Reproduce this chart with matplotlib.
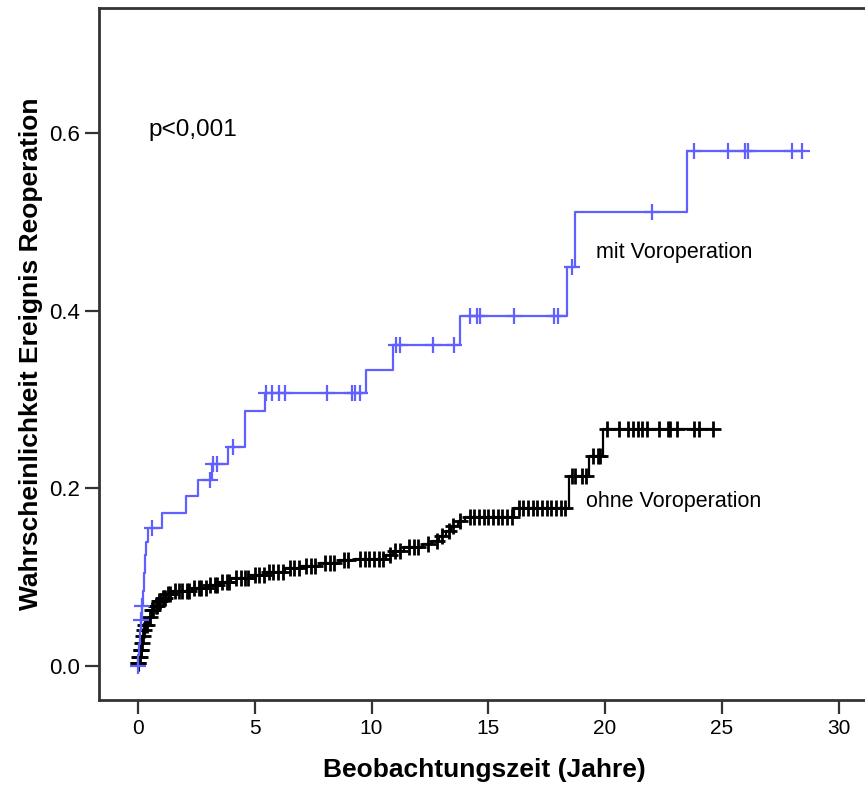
import numpy as np
import matplotlib
matplotlib.use("Agg")
import matplotlib.pyplot as plt

# Kaplan-Meier type cumulative incidence of reoperation
# event times (years) and cumulative probability after each event
mit_t = [0.0, 0.02, 0.05, 0.08, 0.12, 0.16, 0.2, 0.25, 0.3, 0.35, 0.42, 1.03, 2.06, 2.57,
         3.17, 3.86, 4.59, 5.44, 9.77, 10.9, 13.8, 18.35, 18.73, 23.5]
mit_p = [0.0, 0.012, 0.025, 0.04, 0.052, 0.068, 0.085, 0.105, 0.125, 0.14, 0.155, 0.172, 0.191, 0.209,
         0.227, 0.247, 0.287, 0.307, 0.333, 0.361, 0.394, 0.449, 0.511, 0.58]
mit_cens = [0.0, 0.13, 0.17, 0.6, 3.1, 3.2, 3.38, 4.05, 5.5, 5.75, 6.05, 6.3, 8.1, 9.15, 9.3, 9.5,
            11.05, 11.2, 12.65, 13.55, 14.2, 14.5, 14.65, 16.1, 17.8, 18.0, 18.6, 22.0, 23.8,
            25.25, 25.98, 26.1, 28.0, 28.45]

ohne_t = [0.0, 0.03, 0.08, 0.13, 0.18, 0.24, 0.3, 0.45, 0.55, 0.7, 0.85, 1.0, 1.2, 1.4, 2.3, 3.0,
          3.5, 4.0, 4.8, 5.5, 6.3, 7.0, 7.8, 8.6, 9.3, 10.6, 10.9, 11.4, 12.2, 12.6, 12.9, 13.2,
          13.4, 13.7, 14.0, 16.1, 18.45, 19.3, 19.9]
ohne_p = [0.003, 0.01, 0.018, 0.026, 0.034, 0.041, 0.046, 0.055, 0.063, 0.068, 0.073, 0.077, 0.081,
          0.085, 0.088, 0.091, 0.095, 0.099, 0.103, 0.106, 0.11, 0.113, 0.116, 0.119, 0.121, 0.125,
          0.13, 0.134, 0.137, 0.141, 0.146, 0.152, 0.158, 0.163, 0.168, 0.178, 0.214, 0.237, 0.267]
ohne_cens = [0.0, 0.01, 0.06, 0.07, 0.11, 0.12, 0.16, 0.21, 0.25, 0.32, 0.4, 0.5, 0.6, 0.65, 0.75,
             0.8, 0.9, 0.95, 1.05, 1.1, 1.15, 1.3, 1.35, 1.6, 1.75, 1.9, 2.1, 2.2, 2.4, 2.6, 2.7,
             2.9, 3.1, 3.3, 3.4, 3.6, 3.8, 3.9, 4.2, 4.4, 4.6, 4.7, 5.0, 5.2, 5.4, 5.6, 5.8, 6.0,
             6.2, 6.5, 6.7, 6.9, 7.2, 7.4, 7.6, 8.0, 8.2, 8.4, 8.8, 9.0, 9.5, 9.7, 9.9, 10.1,
             10.3, 10.5, 10.8, 11.0, 11.2, 11.6, 11.8, 12.0, 12.4, 12.8, 13.0, 13.3, 13.5, 13.8,
             14.2, 14.4, 14.6, 14.8, 15.0, 15.2, 15.4, 15.6, 15.8, 16.0, 16.3, 16.5, 16.7, 16.9,
             17.1, 17.3, 17.5, 17.7, 17.9, 18.1, 18.3, 18.6, 18.7, 19.0, 19.2, 19.5, 19.7, 19.8,
             20.1, 20.6, 21.0, 21.2, 21.4, 21.6, 21.8, 22.3, 22.7, 22.8, 23.1, 23.8, 24.0, 24.6]

xticks = [0, 5, 10, 15, 20, 25, 30]
yticks = [0.0, 0.2, 0.4, 0.6]

BLUE = "#6060ff"
plt.rcParams["font.family"] = ["Liberation Sans", "DejaVu Sans"]


def km_curve(t, p, cens):
    t = np.asarray(t, float)
    p = np.asarray(p, float)
    cens = np.asarray(cens, float)
    end = max(t[-1], cens.max())
    xs = np.concatenate([[0.0], t, [end]])
    ys = np.concatenate([[0.0], p, [p[-1]]])
    idx = np.searchsorted(t, cens, side="right") - 1
    cy = np.where(idx >= 0, p[np.clip(idx, 0, None)], 0.0)
    return xs, ys, cens, cy


fig = plt.figure(figsize=(8.65, 7.87), dpi=100)
ax = fig.add_axes([99 / 865, 87 / 787, 770 / 865, 692 / 787])

for t, p, c, col, mew in [(ohne_t, ohne_p, ohne_cens, "black", 2.0),
                          (mit_t, mit_p, mit_cens, BLUE, 1.6)]:
    xs, ys, cx, cy = km_curve(t, p, c)
    ax.step(xs, ys, where="post", color=col, lw=1.6)
    ax.plot(cx, cy, ls="none", marker="+", ms=11, mew=mew, color=col)

ax.set_xlim(-1.67, 31.3)
ax.set_ylim(-0.0383, 0.741)
ax.set_xticks(xticks)
ax.set_xticklabels([str(v) for v in xticks], fontsize=15)
ax.set_yticks(yticks)
ax.set_yticklabels(["%.1f" % v for v in yticks], fontsize=16)
ax.tick_params(direction="out", length=10, width=1.6, color="#333333", pad=4)

for s in ["left", "bottom", "top"]:
    ax.spines[s].set_linewidth(2)
    ax.spines[s].set_color("#333333")
ax.spines["right"].set_visible(False)

ax.set_xlabel("Beobachtungszeit (Jahre)", fontsize=19, fontweight="bold", labelpad=14)
ax.set_ylabel("Wahrscheinlichkeit Ereignis Reoperation", fontsize=19,
              fontweight="bold", labelpad=4)

ax.text(0.43, 0.604, "p<0,001", fontsize=17.5, va="center", ha="left")
ax.text(19.6, 0.466, "mit Voroperation", fontsize=15.5, va="center", ha="left")
ax.text(19.2, 0.185, "ohne Voroperation", fontsize=15.5, va="center", ha="left")

fig.savefig("out.png", dpi=100)
